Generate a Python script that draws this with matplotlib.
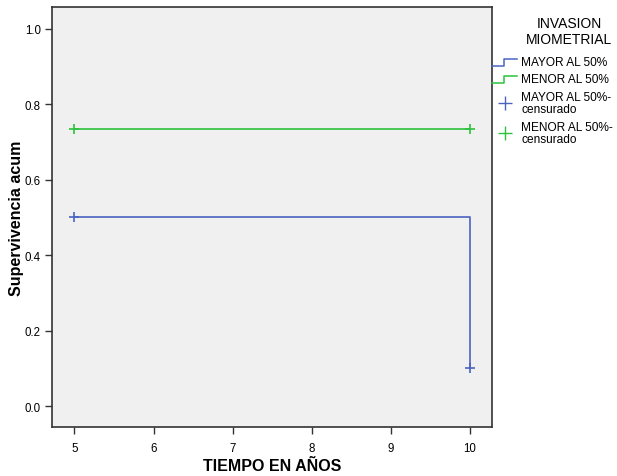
import numpy as np
import matplotlib.pyplot as plt
from matplotlib.lines import Line2D

plt.rcParams['font.family'] = ['Liberation Sans', 'DejaVu Sans']

# data
t_mayor = [5, 10, 10]
s_mayor = [0.5, 0.5, 0.1]
t_menor = [5, 10]
s_menor = [0.733, 0.733]
cens_mayor_t = [5, 10]
cens_mayor_s = [0.5, 0.1]
cens_menor_t = [5, 10]
cens_menor_s = [0.733, 0.733]
xticks = [5, 6, 7, 8, 9, 10]
yticks = [0.0, 0.2, 0.4, 0.6, 0.8, 1.0]

blue = '#4a64c0'
green = '#2cc23c'

fig = plt.figure(figsize=(6.17, 4.77), dpi=100)
W, H = 617., 477.
ax = fig.add_axes([52/W, 1-428/H, (492-52)/W, (428-8)/H])
ax.set_facecolor('#f0f0f0')

ax.plot(t_mayor, s_mayor, color=blue, lw=1.2)
ax.plot(t_menor, s_menor, color=green, lw=1.2)
ax.plot(cens_mayor_t, cens_mayor_s, '+', color=blue, ms=7, mew=1.2, ls='none')
ax.plot(cens_menor_t, cens_menor_s, '+', color=green, ms=7, mew=1.2, ls='none')

ax.set_xlim(4.717, 10.278)
ax.set_ylim(-0.055, 1.057)
ax.set_xticks(xticks)
ax.set_xticklabels([str(v) for v in xticks], fontsize=8.3)
ax.set_yticks(yticks)
ax.set_yticklabels(['%.1f' % v for v in yticks], fontsize=8.3)
ax.tick_params(length=5, width=1, color='#333333', pad=3)
ax.tick_params(axis='x', pad=6)
for s in ax.spines.values():
    s.set_linewidth(1.2)
    s.set_color('#333333')
ax.set_xlabel('TIEMPO EN AÑOS', fontsize=11.5, fontweight='bold')
ax.set_ylabel('Supervivencia acum', fontsize=11.5, fontweight='bold')
ax.xaxis.set_label_coords(0.5, -39/420, transform=ax.transAxes)
ax.yaxis.set_label_coords(-36/440, 0.5, transform=ax.transAxes)
ax.xaxis.label.set_va('center')
ax.yaxis.label.set_va('center')

# legend, drawn by hand in figure pixels
def px(x, y):
    return x/W, 1-y/H

fig.text(*px(569, 24), 'INVASION', ha='center', va='center', fontsize=10)
fig.text(*px(569, 40), 'MIOMETRIAL', ha='center', va='center', fontsize=10)
for y, c, lab in [(63, blue, 'MAYOR AL 50%'), (80, green, 'MENOR AL 50%')]:
    xs = [492, 504, 504, 517]
    ys = [y+4, y+4, y-3, y-3]
    fig.add_artist(Line2D([px(a, b)[0] for a, b in zip(xs, ys)],
                          [px(a, b)[1] for a, b in zip(xs, ys)],
                          color=c, lw=1.1, transform=fig.transFigure))
    fig.text(*px(521, y), lab, ha='left', va='center', fontsize=8.6)
for y, c, lab in [(104, blue, 'MAYOR AL 50%-\ncensurado'), (134, green, 'MENOR AL 50%-\ncensurado')]:
    fig.add_artist(Line2D([px(505, y)[0]], [px(505, y)[1]], marker='+', ms=10,
                          mew=1, color=c, ls='none', transform=fig.transFigure))
    fig.text(*px(521, y), lab, ha='left', va='center', fontsize=8.6, linespacing=1.0)

fig.savefig('out.png', dpi=100)
